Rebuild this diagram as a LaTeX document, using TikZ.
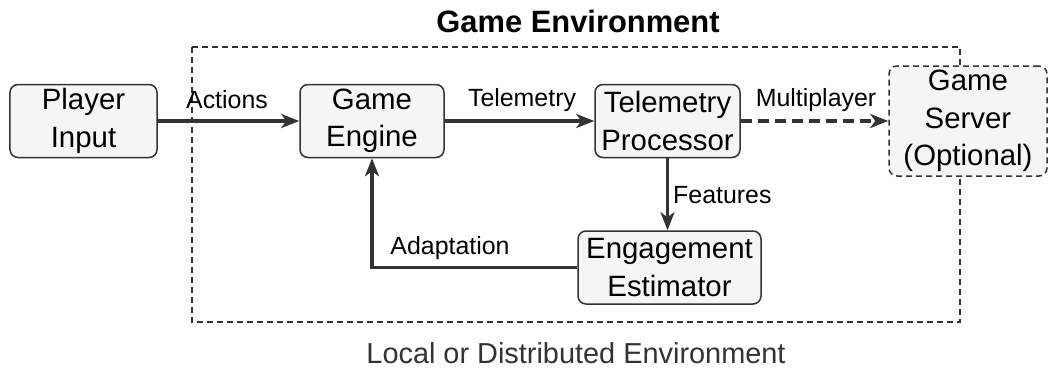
\documentclass[tikz,border=0pt]{standalone}
\usepackage{fontspec}
\setmainfont{Liberation Sans}
\usetikzlibrary{arrows.meta}
\definecolor{boxfill}{HTML}{F5F5F5}
\definecolor{ink}{HTML}{333333}
\begin{document}
\begin{tikzpicture}[x=1bp,y=-1bp,
  block/.style={draw=ink, line width=1.5bp, fill=boxfill, rounded corners=8bp,
    align=center, inner sep=0pt, text=black,
    font=\fontsize{29.5}{37.5}\selectfont},
  flow/.style={draw=ink, line width=3.3bp, -{Stealth[length=18bp,width=14bp,inset=5bp]}},
  lbl/.style={inner sep=0pt, font=\fontsize{25}{30}\selectfont, text=black}]
  \useasboundingbox (0,0) rectangle (1049,369);

  % enclosing environment frame
  \draw[ink, line width=1.3bp, dash pattern=on 6bp off 4bp] (192,47) rectangle (960,322);
  \node[font=\bfseries\fontsize{31}{37}\selectfont] (title) at (578,21) {Game Environment};
  \node[font=\fontsize{29}{35}\selectfont, text=ink] (envlbl) at (576,353) {Local or Distributed Environment};

  % components
  \node[block, minimum width=147bp, minimum height=73bp] (player) at (83.5,121) {Player\\Input};
  \node[block, minimum width=144bp, minimum height=73bp] (engine) at (372,121) {Game\\Engine};
  \node[block, minimum width=145bp, minimum height=73bp] (telem) at (667.5,121) {Telemetry\\Processor};
  \node[block, minimum width=183bp, minimum height=73bp] (estim) at (669.5,267.5) {Engagement\\Estimator};
  \node[block, dash pattern=on 6bp off 4bp, minimum width=158bp, minimum height=110bp] (server) at (968,121) {Game\\Server\\(Optional)};

  % data flow
  \draw[flow] (player.east) -- (engine.west);
  \draw[flow] (engine.east) -- (telem.west);
  \draw[flow, dash pattern=on 11bp off 6bp] (telem.east) -- (server.west);
  \draw[flow] (telem.south) -- (telem.south |- estim.north);
  \draw[flow] (estim.west) -- (engine.south |- estim.west) -- (engine.south);

  % flow labels
  \node[lbl] (lact) at (227,100) {Actions};
  \node[lbl] (ltel) at (522,100) {Telemetry};
  \node[lbl] (lmul) at (816,100) {Multiplayer};
  \node[lbl, anchor=west] (lfea) at (673,195) {Features};
  \node[lbl] (lada) at (450,248) {Adaptation};
\end{tikzpicture}
\end{document}
